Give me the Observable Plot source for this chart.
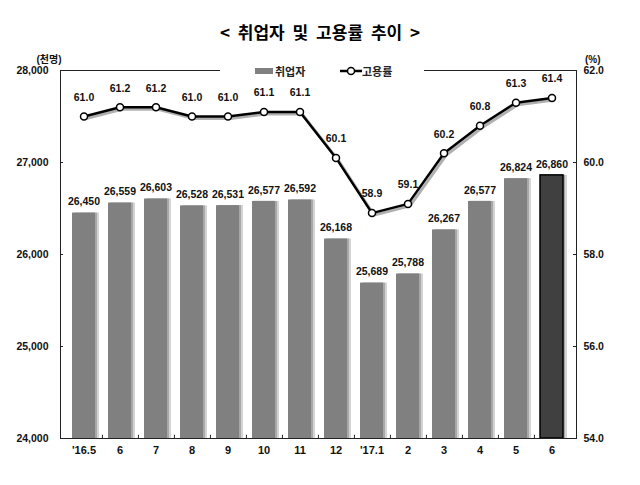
<!DOCTYPE html>
<html><head><meta charset="utf-8">
<script src="https://cdn.jsdelivr.net/npm/d3@7"></script>
<script src="https://cdn.jsdelivr.net/npm/@observablehq/plot@0.6"></script>
<style>
body{margin:0;background:#fff;font-family:"Liberation Sans","Noto Sans CJK KR",sans-serif;position:relative;width:640px;height:485px;overflow:hidden}
#title{height:50px;box-sizing:border-box;padding-top:21px;text-align:center;font-family:"Noto Sans CJK KR",sans-serif;font-weight:bold;font-size:17px;line-height:22px;word-spacing:4px;color:#000}
#legend{position:absolute;top:63px;left:220px;width:204px;height:16px;background:#fff;font-family:"Noto Sans CJK KR",sans-serif;font-weight:bold;font-size:11px;color:#222}
#legend .sw{position:absolute;left:35px;top:5px;width:18px;height:6px;background:#808080}
#legend .t1{position:absolute;left:55px;top:0;line-height:16px}
#legend svg{position:absolute;left:120px;top:2px}
#legend .t2{position:absolute;left:142px;top:0;line-height:16px}
#chart svg{display:block}
</style></head>
<body>
<div id="title">&lt; 취업자 및 고용률 추이 &gt;</div>
<div id="chart"></div>
<div id="legend"><div class="sw"></div><span class="t1">취업자</span><svg width="22" height="12"><line x1="0" y1="6" x2="22" y2="6" stroke="#000" stroke-width="2.5"/><circle cx="11" cy="6" r="3.5" fill="#fff" stroke="#000" stroke-width="1.5"/></svg><span class="t2">고용률</span></div>
<script>
const months = ["'16.5","6","7","8","9","10","11","12","'17.1","2","3","4","5","6"];
const employed = [26450,26559,26603,26528,26531,26577,26592,26168,25689,25788,26267,26577,26824,26860];
const rate = [61.0,61.2,61.2,61.0,61.0,61.1,61.1,60.1,58.9,59.1,60.2,60.8,61.3,61.4];
const leftTicks = [24000,25000,26000,27000,28000];
const rightTicks = [54,56,58,60,62];
const unitLeft = "(천명)";
const unitRight = "(%)";

const toY = r => 24000 + (r - 54) * 500;
const fromY = y => (y - 24000) / 500 + 54;
const data = months.map((m, i) => ({i, m, e: employed[i], r: rate[i], ry: toY(rate[i]), last: i === months.length - 1}));
const W = 640, H = 435, mL = 60, mR = 64, mT = 20, mB = 47;
const step = (W - mL - mR) / months.length;
const innerW = W - mL - mR;
const fmt = d3.format(",");

const chart = Plot.plot({
  width: W, height: H, marginTop: mT, marginBottom: mB, marginLeft: mL, marginRight: mR,
  style: {fontFamily: "'Liberation Sans','Noto Sans CJK KR',sans-serif", fontWeight: "bold", fontSize: "10.5px", color: "#111", background: "#fff"},
  x: {type: "band", domain: d3.range(months.length), paddingInner: 0.36, paddingOuter: 0.18},
  y: {domain: [24000, 28000]},
  marks: [
    Plot.barY(data, {x: "i", y1: 24000, y2: "e", fill: "#d4d4d4", dx: 4}),
    Plot.barY(data, {x: "i", y1: 24000, y2: "e", fill: "#a8a8a8", dx: 2}),
    Plot.barY(data, {x: "i", y1: 24000, y2: "e", fill: d => d.last ? "#404040" : "#808080", stroke: d => d.last ? "#000" : "none", strokeWidth: 1.5}),
    Plot.frame({stroke: "#222"}),
    Plot.tickY(leftTicks.slice(1, -1), {y: d => d, insetRight: innerW - 3, stroke: "#222"}),
    Plot.tickY(leftTicks.slice(1, -1), {y: d => d, insetLeft: innerW - 3, stroke: "#222"}),
    Plot.ruleX(d3.range(months.length - 1), {x: d => d, dx: step / 2, y1: 24000, y2: 24035, stroke: "#222"}),
    Plot.axisY({ticks: leftTicks, tickFormat: fmt, tickSize: 0, tickPadding: 12, label: null}),
    Plot.axisY({anchor: "right", ticks: rightTicks.map(toY), tickFormat: d => fromY(d).toFixed(1), tickSize: 0, tickPadding: 7, label: null}),
    Plot.axisX({tickFormat: i => months[i], tickSize: 0, tickPadding: 8, fontSize: 11, label: null}),
    Plot.text(data, {x: "i", y: "e", text: d => fmt(d.e), dy: -11}),
    Plot.line(data, {x: "i", y: "ry", stroke: "#b0b0b0", strokeWidth: 3, dx: 2, dy: 2}),
    Plot.line(data, {x: "i", y: "ry", stroke: "#000", strokeWidth: 2.5}),
    Plot.dot(data, {x: "i", y: "ry", r: 3.5, fill: "#fff", stroke: "#000", strokeWidth: 1.5}),
    Plot.text(data, {x: "i", y: "ry", text: d => d.r.toFixed(1), dy: -19}),
    Plot.text([unitLeft], {frameAnchor: "top-left", text: d => d, dx: -24, dy: -15, fontSize: 10}),
    Plot.text([unitRight], {frameAnchor: "top-right", text: d => d, dx: 24, dy: -15, fontSize: 10})
  ]
});
document.getElementById("chart").appendChild(chart);
</script>
</body></html>
